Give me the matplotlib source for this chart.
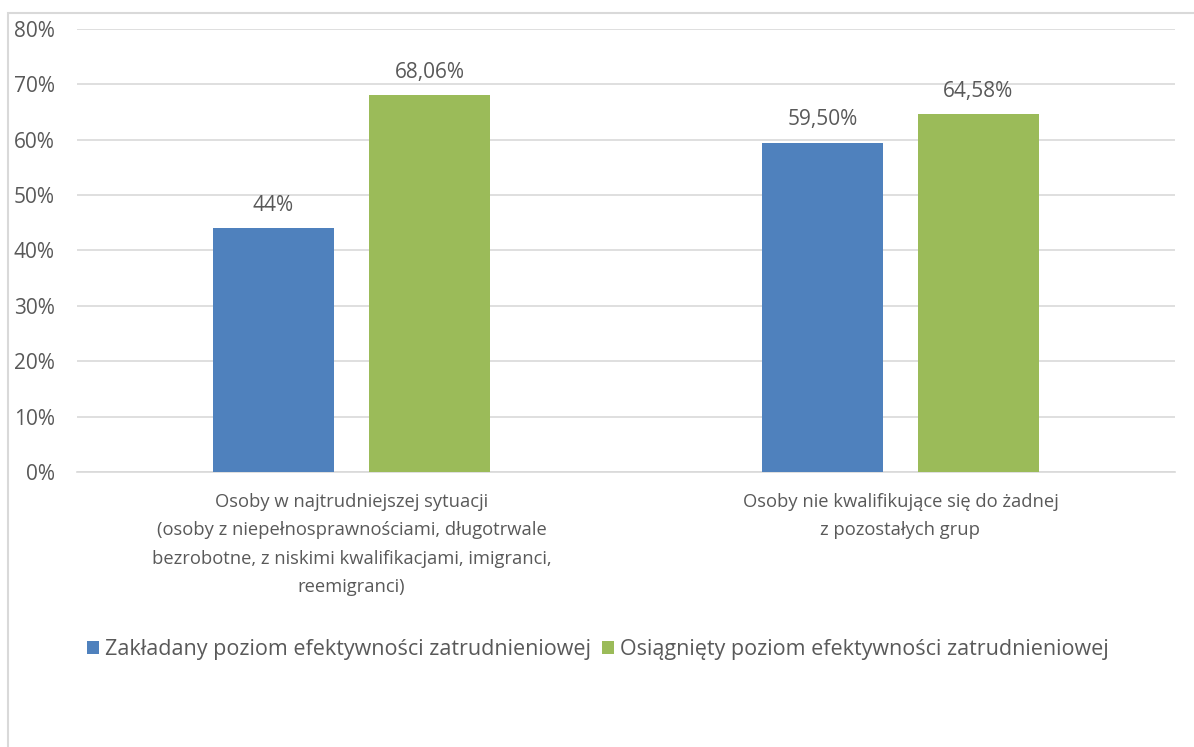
import matplotlib
matplotlib.use("Agg")
import matplotlib.pyplot as plt
import numpy as np
from matplotlib.patches import Rectangle

categories = [
    "Osoby w najtrudniejszej sytuacji\n(osoby z niepełnosprawnościami, długotrwale\nbezrobotne, z niskimi kwalifikacjami, imigranci,\nreemigranci)",
    "Osoby nie kwalifikujące się do żadnej\nz pozostałych grup",
]
series_names = [
    "Zakładany poziom efektywności zatrudnieniowej",
    "Osiągnięty poziom efektywności zatrudnieniowej",
]
planned = [44.0, 59.50]
achieved = [68.06, 64.58]
planned_labels = ["44%", "59,50%"]
achieved_labels = ["68,06%", "64,58%"]
yticks = [0, 10, 20, 30, 40, 50, 60, 70, 80]

BLUE = "#4F81BD"
GREEN = "#9BBB59"
TEXT = "#595959"
GRID = "#D9D9D9"

plt.rcParams["font.family"] = ["Open Sans", "DejaVu Sans"]

fig = plt.figure(figsize=(11.94, 7.47), dpi=100)
ax = fig.add_axes([77 / 1194, 1 - 472 / 747, 1098 / 1194, 443 / 747])

x = np.arange(len(categories))
w = 0.222
off = 0.142
b1 = ax.bar(x - off, planned, w, color=BLUE, label=series_names[0], zorder=3)
b2 = ax.bar(x + off, achieved, w, color=GREEN, label=series_names[1], zorder=3)

for bars, labels in ((b1, planned_labels), (b2, achieved_labels)):
    for bar, lab in zip(bars, labels):
        ax.annotate(lab, (bar.get_x() + bar.get_width() / 2, bar.get_height()),
                    xytext=(0, 9), textcoords="offset points", ha="center", va="bottom",
                    fontsize=15, color=TEXT)

ax.set_xlim(-0.5, 1.5)
ax.set_ylim(0, 80)
ax.set_yticks(yticks)
ax.set_yticklabels([f"{t}%" for t in yticks])
ax.set_xticks(x)
ax.set_xticklabels(categories, linespacing=1.75, fontsize=13.2)
ax.tick_params(axis="both", length=0, labelcolor=TEXT)
ax.tick_params(axis="y", pad=16, labelsize=15)
ax.tick_params(axis="x", pad=15)
ax.grid(axis="y", color=GRID, linewidth=1.2, zorder=0)
for s in ("top", "right", "left"):
    ax.spines[s].set_visible(False)
ax.spines["bottom"].set_color(GRID)
ax.spines["bottom"].set_linewidth(1.2)

fig.legend(handles=[b1, b2], labels=series_names, loc="center", bbox_to_anchor=(598 / 1194, 1 - 650 / 747),
           ncol=2, frameon=False, fontsize=15.5, labelcolor=TEXT, handlelength=0.55, handleheight=0.55,
           handletextpad=0.3, columnspacing=0.5)

fig.patches.append(Rectangle((8 / 1194, -0.1), 1.2, 1 - 13 / 747 + 0.1, transform=fig.transFigure,
                             fill=False, edgecolor=GRID, linewidth=1.5))

fig.savefig("out.png", dpi=100)
